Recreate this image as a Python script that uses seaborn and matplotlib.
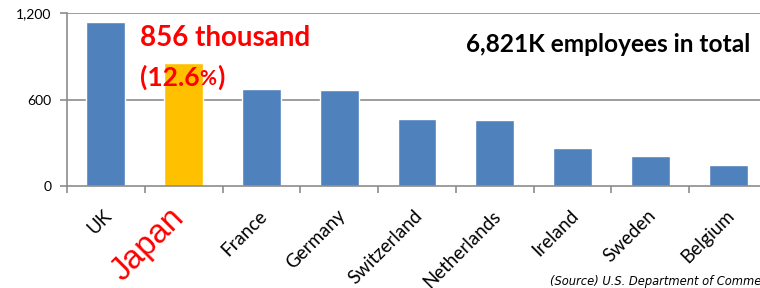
import matplotlib
matplotlib.use("Agg")
import matplotlib.pyplot as plt
import matplotlib.transforms as mtransforms
import seaborn as sns
import pandas as pd
from matplotlib.offsetbox import TextArea, HPacker, AnnotationBbox

countries = ["UK", "Japan", "France", "Germany", "Switzerland", "Netherlands", "Ireland", "Sweden", "Belgium"]
employees = [1140, 856, 674, 669, 466, 456, 264, 206, 146]
highlight = "Japan"
yticks = [0, 600, 1200]
ytick_labels = ["0", "600", "1,200"]

sns.set_theme(style="white")
plt.rcParams['font.family'] = ['Lato', 'DejaVu Sans']

df = pd.DataFrame({"country": countries, "employees": employees})
palette = {c: ("#FFC000" if c == highlight else "#4F81BD") for c in countries}

fig = plt.figure(figsize=(7.6, 2.88), dpi=100)
ax = fig.add_axes([67/760, 1 - 186/288, 700/760, (186 - 13.3)/288])

sns.barplot(data=df, x="country", y="employees", hue="country", palette=palette,
            dodge=False, legend=False, width=0.5, saturation=1, ax=ax)

ax.set_xlim(-0.5, len(countries) - 0.5)
ax.set_ylim(0, 1200)
ax.set_xlabel("")
ax.set_ylabel("")

grid_c = "#8C8C8C"
ax.set_yticks(yticks)
ax.set_yticklabels(ytick_labels, fontsize=10, color="black")
ax.tick_params(axis="y", length=5, width=1.2, color=grid_c, pad=6, direction="out", left=True)
for v in yticks[1:]:
    ax.axhline(v, color=grid_c, lw=1.2, zorder=0)

for s in ["top", "right"]:
    ax.spines[s].set_visible(False)
for s in ["left", "bottom"]:
    ax.spines[s].set_color(grid_c)
    ax.spines[s].set_linewidth(1.2)

ax.set_xticks(range(len(countries)))
ax.set_xticklabels(countries)
ax.set_xticks([i - 0.5 for i in range(len(countries) + 1)], minor=True)
ax.tick_params(axis="x", which="major", length=0, pad=18)
ax.tick_params(axis="x", which="minor", length=5, width=1.2, color=grid_c, direction="out", bottom=True)
shift = mtransforms.ScaledTranslation(3/100, -2/100, fig.dpi_scale_trans)
shift_hl = mtransforms.ScaledTranslation(-4/100, -2/100, fig.dpi_scale_trans)
for lbl in ax.get_xticklabels():
    lbl.set_rotation(45)
    lbl.set_ha("right")
    lbl.set_va("center")
    lbl.set_rotation_mode("anchor")
    if lbl.get_text() == highlight:
        lbl.set_transform(lbl.get_transform() + shift_hl)
        lbl.set_color("red")
        lbl.set_fontsize(23.5)
        lbl.set_family(['Liberation Sans', 'DejaVu Sans'])
    else:
        lbl.set_transform(lbl.get_transform() + shift)
        lbl.set_fontsize(13.5)
        lbl.set_color("black")

# annotations
ax.text(0.44, 1028, "856 thousand", color="red", fontsize=20, fontweight="bold",
        ha="left", va="center")
pct = HPacker(children=[
    TextArea("(12.6", textprops=dict(color="red", fontsize=19, fontweight="bold", family=['Lato'])),
    TextArea("%", textprops=dict(color="red", fontsize=15, fontweight="bold", family=['Lato'])),
    TextArea(")", textprops=dict(color="red", fontsize=19, fontweight="bold", family=['Lato'])),
], align="baseline", pad=0, sep=0)
ab = AnnotationBbox(pct, (0.44, 757), xycoords="data", box_alignment=(0, 0.5), frameon=False, pad=0)
ax.add_artist(ab)

ax.text(4.63, 980, "6,821K employees in total", color="black", fontsize=17.6, fontweight="bold",
        ha="left", va="center")

fig.text(550/760, 6/288, "(Source) U.S. Department of Commerce", fontsize=8.3, style="italic",
         family=['Liberation Sans Narrow', 'DejaVu Sans'], color="black", ha="left", va="center")

fig.savefig("out.png", dpi=100)
